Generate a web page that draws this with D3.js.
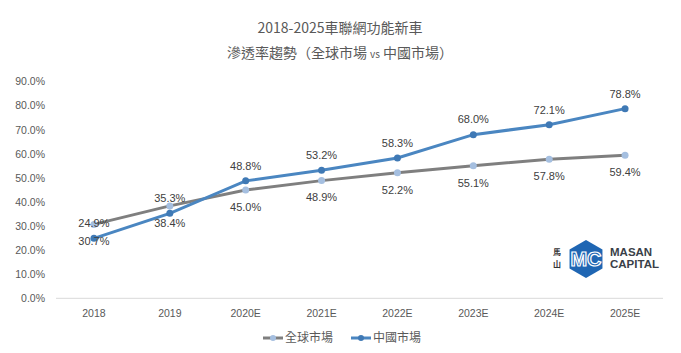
<!DOCTYPE html>
<html>
<head>
<meta charset="utf-8">
<script src="https://cdn.jsdelivr.net/npm/d3@7"></script>
<style>
  body { margin: 0; background: #fff; }
  text { font-family: "Noto Sans CJK TC", "Liberation Sans", sans-serif; }
</style>
</head>
<body>
<div id="canvas"></div>
<script>
"use strict"

/* canvas size */
let svgWidth = 681;
let svgHeight = 353;

/* margins */
let leftMargin = 56
let rightMargin = 18
let topMargin = 82
let bottomMargin = 55

/* data */
let years = ["2018", "2019", "2020E", "2021E", "2022E", "2023E", "2024E", "2025E"];
let globalRate = [30.7, 38.4, 45.0, 48.9, 52.2, 55.1, 57.8, 59.4];
let chinaRate = [24.9, 35.3, 48.8, 53.2, 58.3, 68.0, 72.1, 78.8];
let yTicks = [0, 10, 20, 30, 40, 50, 60, 70, 80, 90];
let seriesNames = ["全球市場", "中國市場"];

let svg = d3.select("#canvas")
    .append("svg")
    .attr("width", svgWidth)
    .attr("height", svgHeight);

let xScale = d3.scaleBand()
    .domain(years)
    .range([leftMargin, svgWidth - rightMargin]);

let yScale = d3.scaleLinear()
    .domain([0, 90])
    .range([298.3, 81.7]);

/* title */
svg.append("text")
    .attr("x", 340).attr("y", 33)
    .style("text-anchor", "middle")
    .style("font-size", "14px")
    .attr("fill", "#595959")
    .text("2018-2025車聯網功能新車");

let t2 = svg.append("text")
    .attr("x", 340).attr("y", 58)
    .style("text-anchor", "middle")
    .style("font-size", "14px")
    .attr("fill", "#595959");
t2.append("tspan").text("滲透率趨勢（全球市場 ");
t2.append("tspan").style("font-size", "10px").text("vs");
t2.append("tspan").text(" 中國市場）");

/* y axis labels */
yTicks.forEach(function (v) {
    svg.append("text")
        .attr("x", 45)
        .attr("y", yScale(v))
        .attr("dy", "0.35em")
        .style("text-anchor", "end")
        .style("font-size", "10.5px")
        .attr("fill", "#595959")
        .style("font-family", "Liberation Sans, sans-serif")
        .text(v.toFixed(1) + "%");
});

/* baseline */
svg.append("line")
    .attr("x1", leftMargin).attr("x2", svgWidth - rightMargin)
    .attr("y1", yScale(0)).attr("y2", yScale(0))
    .attr("stroke", "#d9d9d9")
    .attr("stroke-width", 1);

/* x labels */
years.forEach(function (y) {
    svg.append("text")
        .attr("x", xScale(y) + xScale.bandwidth() / 2)
        .attr("y", 317)
        .style("text-anchor", "middle")
        .style("font-size", "10.5px")
        .style("font-family", "Liberation Sans, sans-serif")
        .attr("fill", "#595959")
        .text(y);
});

let cx = function (d, i) { return xScale(years[i]) + xScale.bandwidth() / 2; };

let line = d3.line()
    .x(function (d, i) { return cx(d, i); })
    .y(function (d) { return yScale(d); });

/* global series */
svg.append("path")
    .datum(globalRate)
    .attr("d", line)
    .attr("fill", "none")
    .attr("stroke", "#7f7f7f")
    .attr("stroke-width", 3);

svg.selectAll(".gdot")
    .data(globalRate)
    .join("circle")
    .attr("class", "gdot")
    .attr("cx", cx)
    .attr("cy", function (d) { return yScale(d); })
    .attr("r", 3.5)
    .attr("fill", "#a5bfe0");

/* china series */
svg.append("path")
    .datum(chinaRate)
    .attr("d", line)
    .attr("fill", "none")
    .attr("stroke", "#4a86c1")
    .attr("stroke-width", 3);

svg.selectAll(".cdot")
    .data(chinaRate)
    .join("circle")
    .attr("class", "cdot")
    .attr("cx", cx)
    .attr("cy", function (d) { return yScale(d); })
    .attr("r", 3.5)
    .attr("fill", "#3f79b5");

/* data labels */
svg.selectAll(".clab")
    .data(chinaRate)
    .join("text")
    .attr("class", "clab")
    .attr("x", cx)
    .attr("y", function (d) { return yScale(d) - 15; })
    .attr("dy", "0.35em")
    .style("text-anchor", "middle")
    .style("font-size", "11px")
    .style("font-family", "Liberation Sans, sans-serif")
    .attr("fill", "#404040")
    .text(function (d) { return d.toFixed(1) + "%"; });

svg.selectAll(".glab")
    .data(globalRate)
    .join("text")
    .attr("class", "glab")
    .attr("x", cx)
    .attr("y", function (d) { return yScale(d) + 17; })
    .attr("dy", "0.35em")
    .style("text-anchor", "middle")
    .style("font-size", "11px")
    .style("font-family", "Liberation Sans, sans-serif")
    .attr("fill", "#404040")
    .text(function (d) { return d.toFixed(1) + "%"; });

/* legend */
let legendX = [263, 351];
let legendLine = ["#7f7f7f", "#4a86c1"];
let legendDot = ["#a5bfe0", "#3f79b5"];
seriesNames.forEach(function (name, i) {
    svg.append("line")
        .attr("x1", legendX[i]).attr("x2", legendX[i] + 20)
        .attr("y1", 338).attr("y2", 338)
        .attr("stroke", legendLine[i])
        .attr("stroke-width", 3);
    svg.append("circle")
        .attr("cx", legendX[i] + 10).attr("cy", 338)
        .attr("r", 3)
        .attr("fill", legendDot[i]);
    svg.append("text")
        .attr("x", legendX[i] + 22).attr("y", 338)
        .attr("dy", "0.35em")
        .style("font-size", "12px")
        .attr("fill", "#595959")
        .text(name);
});

/* logo */
let logo = svg.append("g").attr("transform", "translate(586,259)");
let hex = d3.range(6).map(function (k) {
    let a = Math.PI / 3 * k + Math.PI / 6;
    return [19 * Math.cos(a), 19 * Math.sin(a)];
});
logo.append("polygon")
    .attr("points", hex.map(function (p) { return p.join(","); }).join(" "))
    .attr("fill", "#1f66b3");
logo.append("text")
    .attr("x", 0).attr("y", 7)
    .style("text-anchor", "middle")
    .style("font-size", "20px")
    .style("font-weight", "bold")
    .style("font-family", "Liberation Sans, sans-serif")
    .attr("fill", "none")
    .attr("stroke", "#fff")
    .attr("stroke-width", 1.2)
    .text("MC");
svg.append("text")
    .attr("x", 557).attr("y", 255)
    .style("text-anchor", "middle")
    .style("font-size", "8px")
    .style("font-weight", "bold")
    .attr("fill", "#333")
    .text("馬");
svg.append("text")
    .attr("x", 557).attr("y", 267)
    .style("text-anchor", "middle")
    .style("font-size", "8px")
    .style("font-weight", "bold")
    .attr("fill", "#333")
    .text("山");
svg.append("text")
    .attr("x", 610).attr("y", 256)
    .style("font-size", "11.5px")
    .style("font-weight", "bold")
    .style("font-family", "Liberation Sans, sans-serif")
    .attr("fill", "#3a3f48")
    .text("MASAN");
svg.append("text")
    .attr("x", 610).attr("y", 268)
    .style("font-size", "11.5px")
    .style("font-weight", "bold")
    .style("font-family", "Liberation Sans, sans-serif")
    .attr("fill", "#3a3f48")
    .text("CAPITAL");
</script>
</body>
</html>
